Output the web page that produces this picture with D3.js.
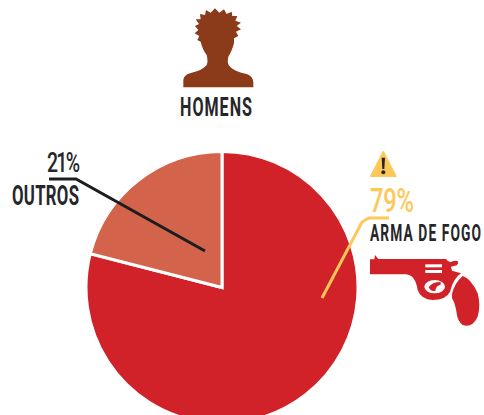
<!DOCTYPE html>
<html><head><meta charset="utf-8">
<script src="https://cdn.jsdelivr.net/npm/d3@7"></script>
<style>html,body{margin:0;padding:0;background:#fff}svg{display:block}text{font-family:Roboto,sans-serif}</style>
</head><body><svg id="c" width="484" height="415"></svg>
<script>
const categories = ["ARMA DE FOGO", "OUTROS"];
const values = [79, 21];
const percentLabels = ["79%", "21%"];
const colors = ["#d1222a", "#d3634b"];
const title = "HOMENS";

const svg = d3.select("#c");
const cx = 222, cy = 287.5, r = 136;
const pie = d3.pie().sort(null)(values);
const arc = d3.arc().innerRadius(0).outerRadius(r);
svg.append("g").attr("transform", `translate(${cx},${cy})`)
  .selectAll("path").data(pie).join("path")
  .attr("d", arc).attr("fill", (d, i) => colors[i])
  .attr("stroke", "#fff").attr("stroke-width", 3).attr("stroke-linejoin", "miter");

const line = d3.line();
svg.append("path").attr("d", line([[322,298],[362,222],[369,218],[389,218]]))
  .attr("fill", "none").attr("stroke", "#fdc858").attr("stroke-width", 3);
svg.append("path").attr("d", line([[49,179],[76,179],[205,251]]))
  .attr("fill", "none").attr("stroke", "#1d1d1f").attr("stroke-width", 3);

function label(t, x, base, w, size, fill, weight, sx) {
  svg.append("text").text(t)
    .attr("transform", `translate(${x},${base}) scale(${sx},1)`)
    .attr("textLength", w / sx).attr("lengthAdjust", "spacing")
    .attr("font-size", size).attr("font-weight", weight).attr("fill", fill);
}
label(title, 180, 115.5, 72, 26, "#26262a", 700, 0.62);
label(percentLabels[1], 47, 172, 33, 27, "#26262a", 500, 0.72);
label(categories[1], 12, 205, 67, 27, "#26262a", 700, 0.62);
label(percentLabels[0], 370, 212, 44, 33, "#fdc858", 500, 0.72);
label(categories[0], 370, 241, 111, 23, "#26262a", 700, 0.6);

// person icon
svg.append("path").attr("transform", "translate(160,0) scale(0.3333)")
  .attr("fill", "#8b3a1a")
  .attr("d", "M70 262 L70 240 Q72 225 90 220 Q130 210 140 195 Q145 185 140 165 Q128 150 122 125 L112 120 L118 108 L104 100 L115 90 L105 78 L117 72 L107 58 L122 58 L120 42 L135 45 L138 30 L152 38 L165 25 L178 38 L192 28 L200 42 L215 35 L217 48 L232 48 L226 62 L243 68 L230 78 L243 88 L228 95 L235 108 L222 115 L222 130 Q215 155 205 170 Q200 190 210 200 Q225 215 260 222 Q278 228 280 245 L280 262 Z");

// warning icon
const w = svg.append("g").attr("transform", "translate(360,145) scale(0.3333)");
w.append("path").attr("fill", "#fdc858").attr("stroke", "#fdc858").attr("stroke-width", 4).attr("stroke-linejoin", "round")
  .attr("d", "M70 20 L108 94 L32 94 Z");
w.append("path").attr("fill", "#26262a").attr("d", "M65 38 L75 38 L73 72 L67 72 Z");
w.append("circle").attr("cx", 70).attr("cy", 82).attr("r", 6).attr("fill", "#26262a");

// gun icon
const g = svg.append("g").attr("transform", "translate(366,250) scale(0.3333)");
g.append("path").attr("fill", "#d1222a")
  .attr("d", "M12 73 L12 28 L25 28 L27 15 L37 27 L240 27 Q248 38 255 36 Q265 30 275 33 Q279 40 272 46 L255 50 L258 62 L285 70 Q262 85 252 125 Q240 150 200 150 Q165 148 155 120 Q148 75 120 73 Z");
g.append("path").attr("fill", "#d1222a")
  .attr("d", "M258 132 Q265 100 290 78 Q315 85 335 130 Q345 165 335 200 Q318 235 290 225 Q275 215 272 190 Q268 160 258 145 Z");
g.append("rect").attr("x", 178).attr("y", 43).attr("width", 50).attr("height", 9).attr("fill", "#fff");
g.append("rect").attr("x", 178).attr("y", 60).attr("width", 50).attr("height", 9).attr("fill", "#fff");
g.append("ellipse").attr("cx", 206).attr("cy", 110).attr("rx", 31).attr("ry", 20).attr("fill", "#fff");
g.append("path").attr("fill", "#d1222a").attr("d", "M188 112 Q198 96 224 96 L224 104 Q210 106 208 122 Q194 126 188 112 Z");
</script></body></html>
